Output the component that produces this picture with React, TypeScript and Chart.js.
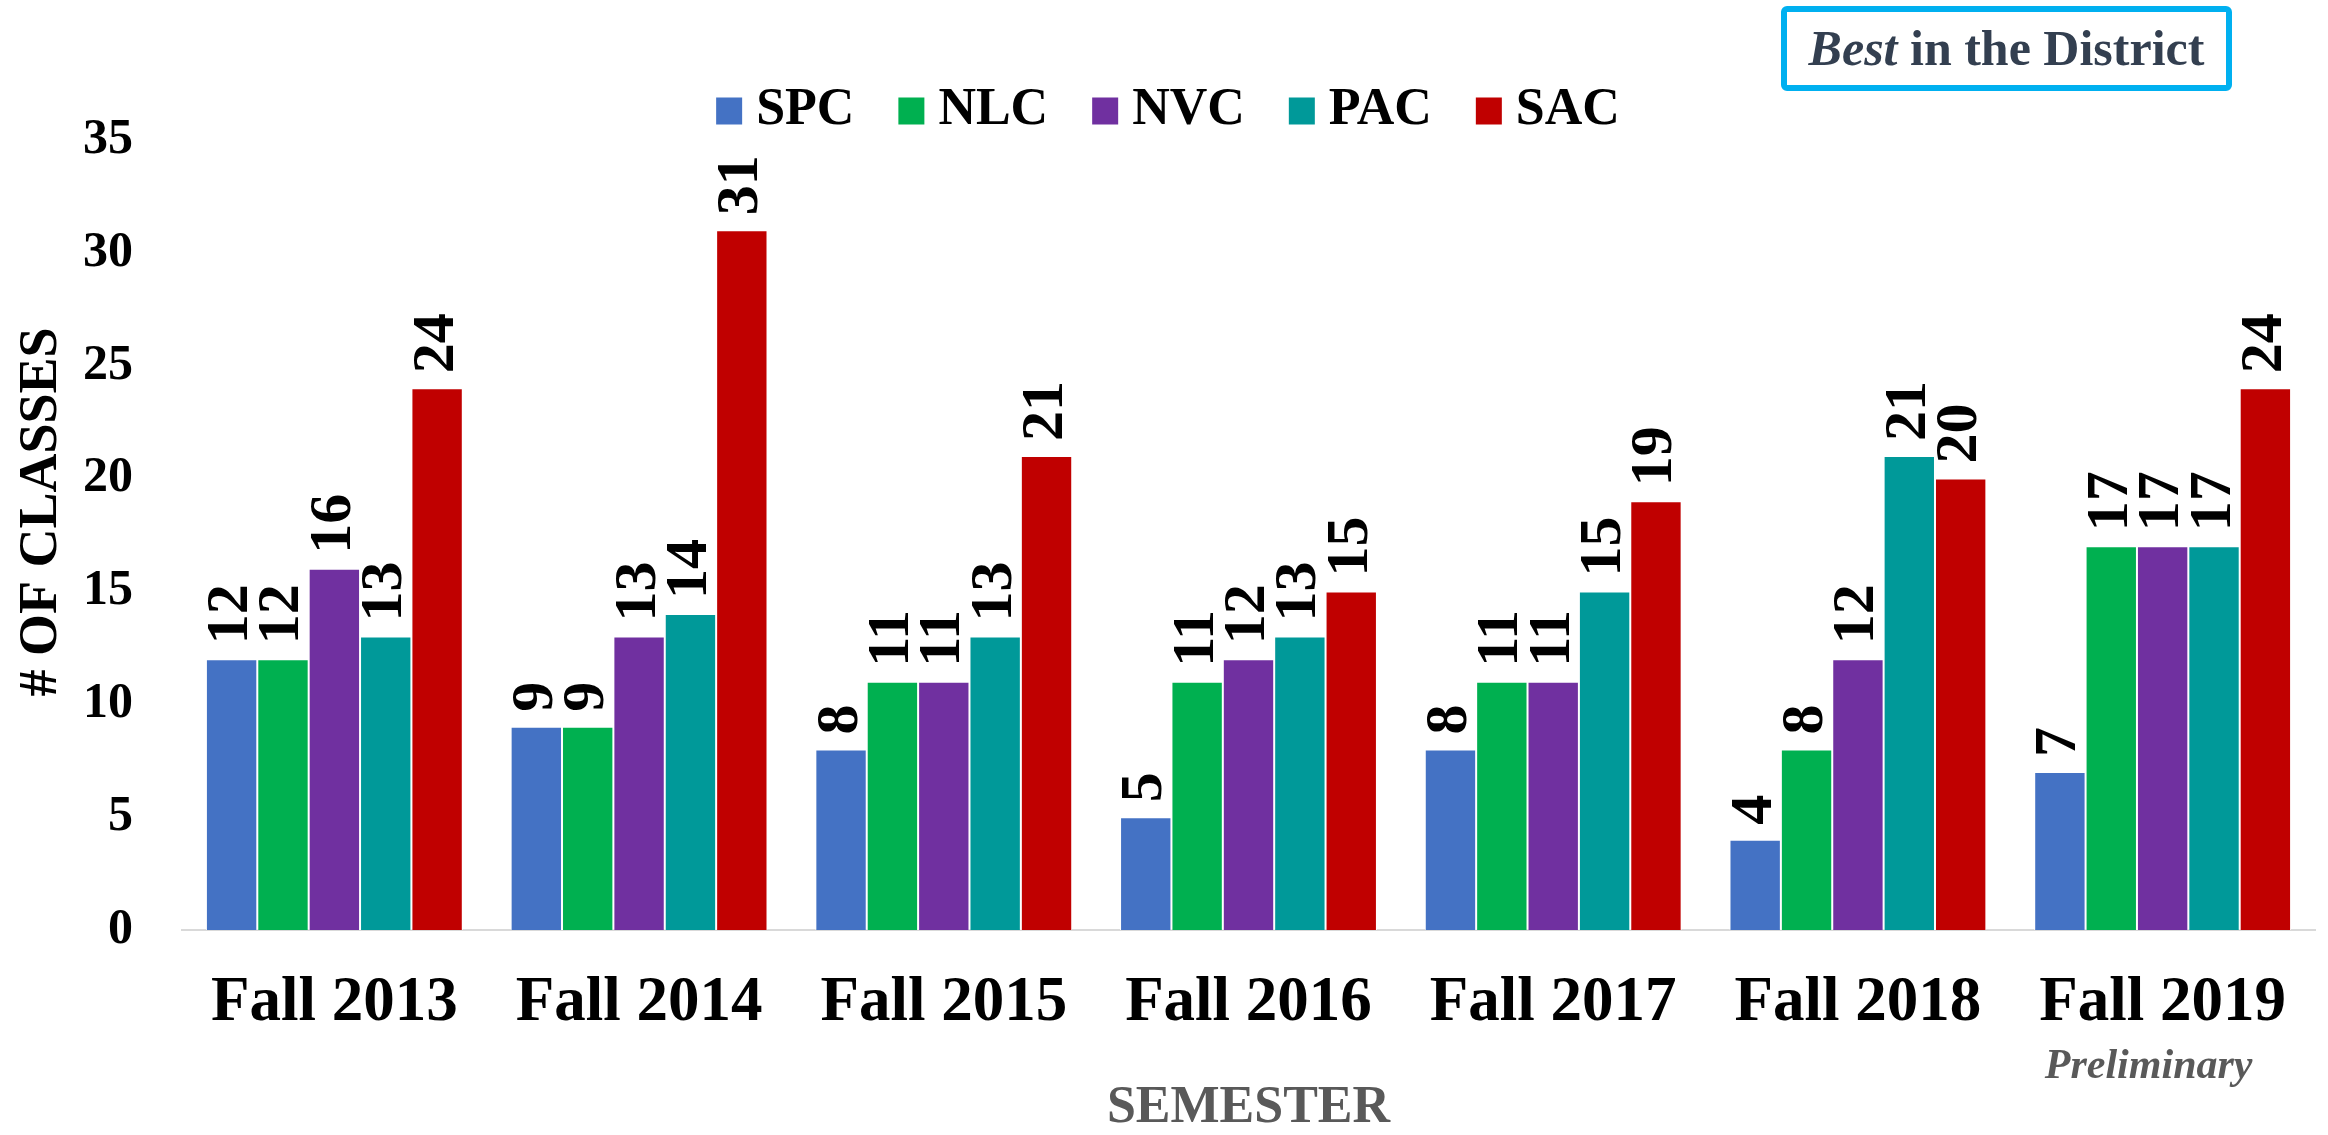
import React, { useEffect, useRef } from 'react';
import { Chart, registerables } from 'chart.js';

Chart.register(...registerables);

const FONT = "'Liberation Serif', 'Times New Roman', serif";

const categories = ['Fall 2013', 'Fall 2014', 'Fall 2015', 'Fall 2016', 'Fall 2017', 'Fall 2018', 'Fall 2019'];
const seriesNames = ['SPC', 'NLC', 'NVC', 'PAC', 'SAC'];
const seriesColors = ['#4472C4', '#00B050', '#7030A0', '#009999', '#C00000'];
const spc = [12, 9, 8, 5, 8, 4, 7];
const nlc = [12, 9, 11, 11, 11, 8, 17];
const nvc = [16, 13, 11, 12, 11, 12, 17];
const pac = [13, 14, 13, 13, 15, 21, 17];
const sac = [24, 31, 21, 15, 19, 20, 24];
const seriesValues = [spc, nlc, nvc, pac, sac];

const yMin = 0;
const yMax = 35;
const yStep = 5;
const yTitle = '# OF CLASSES';
const xTitle = 'SEMESTER';
const noteCategory = 'Fall 2019';
const noteText = 'Preliminary';
const badgeItalic = 'Best';
const badgeRest = ' in the District';

const W = 2328;
const H = 1135;

const overlayPlugin = {
  id: 'overlay',
  afterDatasetsDraw(chart: any) {
    const ctx = chart.ctx;
    ctx.save();
    ctx.font = `bold 60px ${FONT}`;
    ctx.fillStyle = '#000000';
    chart.data.datasets.forEach((ds: any, i: number) => {
      const meta = chart.getDatasetMeta(i);
      meta.data.forEach((bar: any, j: number) => {
        const p = bar.getProps(['x', 'y'], true);
        ctx.save();
        ctx.translate(p.x, p.y - 15);
        ctx.rotate(-Math.PI / 2);
        ctx.textAlign = 'left';
        ctx.textBaseline = 'middle';
        ctx.fillText(String(ds.data[j]), 0, 0);
        ctx.restore();
      });
    });
    ctx.restore();
  },
  afterDraw(chart: any) {
    const ctx = chart.ctx;
    const area = chart.chartArea;
    ctx.save();

    // Y axis title
    ctx.save();
    ctx.font = `bold 54px ${FONT}`;
    ctx.fillStyle = '#000000';
    ctx.textAlign = 'center';
    ctx.textBaseline = 'middle';
    ctx.translate(42, (area.top + area.bottom) / 2 - 23);
    ctx.rotate(-Math.PI / 2);
    ctx.fillText(yTitle, 0, 0);
    ctx.restore();

    // Legend
    ctx.font = `bold 52px ${FONT}`;
    ctx.textBaseline = 'middle';
    ctx.textAlign = 'left';
    const boxW = 26, boxH = 27, gap = 14, spacing = 44;
    const items = chart.data.datasets.map((ds: any) => ({
      label: ds.label,
      color: ds.backgroundColor,
      w: ctx.measureText(ds.label).width,
    }));
    let total = 0;
    items.forEach((it: any, i: number) => {
      total += boxW + gap + it.w + (i < items.length - 1 ? spacing : 0);
    });
    let lx = chart.width / 2 + 4 - total / 2;
    const ly = 111;
    items.forEach((it: any) => {
      ctx.fillStyle = it.color;
      ctx.fillRect(lx, ly - boxH / 2, boxW, boxH);
      ctx.fillStyle = '#000000';
      ctx.fillText(it.label, lx + boxW + gap, ly);
      lx += boxW + gap + it.w + spacing;
    });

    // Preliminary note
    const xs = chart.scales.x;
    const idx = categories.indexOf(noteCategory);
    ctx.font = `italic bold 42px ${FONT}`;
    ctx.fillStyle = '#595959';
    ctx.textAlign = 'center';
    ctx.textBaseline = 'alphabetic';
    ctx.fillText(noteText, xs.getPixelForValue(idx) - 14, area.bottom + 148);

    // Badge
    const bx = 1784, by = 9, bw = 445, bh = 79;
    ctx.fillStyle = '#FFFFFF';
    ctx.strokeStyle = '#00B0F0';
    ctx.lineWidth = 6;
    ctx.beginPath();
    if ((ctx as any).roundRect) {
      (ctx as any).roundRect(bx, by, bw, bh, 3);
    } else {
      ctx.rect(bx, by, bw, bh);
    }
    ctx.fill();
    ctx.stroke();
    ctx.fillStyle = '#333F50';
    ctx.textAlign = 'left';
    ctx.textBaseline = 'alphabetic';
    ctx.font = `italic bold 50px ${FONT}`;
    const w1 = ctx.measureText(badgeItalic).width;
    ctx.font = `bold 50px ${FONT}`;
    const w2 = ctx.measureText(badgeRest).width;
    const sx = bx + bw / 2 - (w1 + w2) / 2;
    ctx.font = `italic bold 50px ${FONT}`;
    ctx.fillText(badgeItalic, sx, 65);
    ctx.font = `bold 50px ${FONT}`;
    ctx.fillText(badgeRest, sx + w1, 65);

    ctx.restore();
  },
};

export default function App() {
  const canvasRef = useRef<HTMLCanvasElement | null>(null);

  useEffect(() => {
    document.body.style.margin = '0';
    const canvas = canvasRef.current;
    if (!canvas) return;
    const chart = new Chart(canvas, {
      type: 'bar',
      data: {
        labels: categories,
        datasets: seriesNames.map((name, i) => ({
          label: name,
          data: seriesValues[i],
          backgroundColor: seriesColors[i],
          borderColor: '#FFFFFF',
          borderWidth: 1,
          categoryPercentage: 0.843,
          barPercentage: 1,
        })),
      },
      options: {
        responsive: false,
        devicePixelRatio: 1,
        animation: false,
        layout: { padding: { top: 140, right: 13, left: 0, bottom: 0 } },
        plugins: {
          legend: { display: false },
          title: { display: false },
          tooltip: { enabled: false },
        },
        scales: {
          x: {
            grid: { display: false, drawTicks: false },
            border: { display: true, color: '#D9D9D9', width: 2 },
            ticks: {
              color: '#000000',
              padding: 36,
              font: { family: FONT, size: 63, weight: 'bold' },
            },
            title: {
              display: true,
              text: xTitle,
              color: '#595959',
              padding: 0,
              font: { family: FONT, size: 52, weight: 'bold', lineHeight: 1.02 },
            },
            afterFit: (scale: any) => {
              scale.height = 205;
            },
          },
          y: {
            min: yMin,
            max: yMax,
            grid: { display: false, drawTicks: false },
            border: { display: false },
            ticks: {
              stepSize: yStep,
              color: '#000000',
              padding: 49,
              font: { family: FONT, size: 50, weight: 'bold' },
            },
            title: { display: false, text: yTitle },
            afterFit: (scale: any) => {
              scale.width = 182;
            },
          },
        },
      },
      plugins: [overlayPlugin],
    });
    return () => chart.destroy();
  }, []);

  return (
    <div style={{ position: 'absolute', left: 0, top: 0, width: W, height: H, background: '#FFFFFF' }}>
      <canvas ref={canvasRef} width={W} height={H} style={{ display: 'block', width: W, height: H }} />
    </div>
  );
}
